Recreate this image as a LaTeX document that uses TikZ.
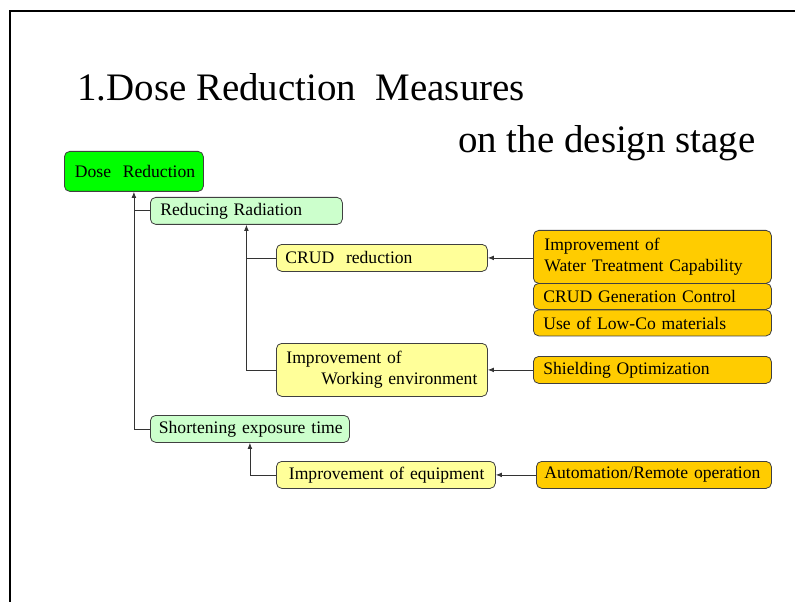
\documentclass[tikz,border=0pt]{standalone}
\usepackage{fontspec}
\setmainfont{Liberation Serif}
\usetikzlibrary{positioning,arrows.meta}
\definecolor{dosegreen}{RGB}{0,255,0}
\definecolor{palegreen}{RGB}{204,255,204}
\definecolor{paleyellow}{RGB}{255,255,153}
\definecolor{measureorange}{RGB}{255,204,0}
\newcommand{\titlefont}{\fontsize{29.2}{35}\selectfont}
\newcommand{\boxfont}{\fontsize{13.2}{15.8}\selectfont\hyphenpenalty=10000}
\tikzset{
    box/.style={draw=black!75, line width=0.6pt, rounded corners=4pt, anchor=north west,
        align=left, inner ysep=0pt, font=\boxfont},
    link/.style={draw=black!80, line width=0.6pt},
    uplink/.style={link, -{Latex[length=4.5pt,width=3.5pt]}}
}

\begin{document}
\begin{tikzpicture}[x=0.75pt, y=-0.75pt]
    \useasboundingbox (0,0) rectangle (795,602);
    % slide frame
    \draw[line width=1.5pt] (10,602) -- (10,11) -- (795,11);

    % title
    \node[anchor=base west, inner sep=0pt, font=\titlefont] (title) at (77,101) {1.Dose Reduction\ \ Measures};
    \node[anchor=base west, inner sep=0pt, font=\titlefont] (subtitle) at (458,153) {on the design stage};

    % tree of measures (ties keep each line in one piece)
    \node[box, fill=dosegreen, minimum height=30pt, inner xsep=7.875pt, text width=88.5pt] (dose) at (64,151) {Dose~~Reduction};
    \node[box, fill=palegreen, minimum height=20.25pt, inner xsep=7.5pt, text width=129pt] (reduce) at (150,197) {Reducing~Radiation};
    \node[box, fill=paleyellow, minimum height=20.25pt, inner xsep=6.75pt, text width=144.75pt] (crud) at (276,244) {CRUD~~reduction};
    \node[box, fill=paleyellow, minimum height=39.75pt, inner xsep=6pt, text width=146.25pt] (work) at (276,343) {\hspace*{1.5pt}Improvement~of\\\hspace*{27.75pt}Working~environment};
    \node[box, fill=palegreen, minimum height=20.25pt, inner xsep=6.375pt, text width=136.5pt] (short) at (150,415) {Shortening~exposure~time};
    \node[box, fill=paleyellow, minimum height=20.25pt, inner xsep=9.375pt, text width=145.5pt] (equip) at (276,461) {Improvement~of~equipment};

    % concrete measures
    \node[box, fill=measureorange, minimum height=39.75pt, inner xsep=8.25pt, text width=162pt] (water) at (533,230) {Improvement~of\\Water~Treatment~Capability};
    \node[box, fill=measureorange, minimum height=19.5pt, inner xsep=7.5pt, text width=163.5pt] (crudgen) at (533,283) {CRUD~Generation~Control};
    \node[box, fill=measureorange, minimum height=19.5pt, inner xsep=7.5pt, text width=163.5pt] (lowco) at (533,309.5) {Use~of~Low-Co~materials};
    \node[box, fill=measureorange, minimum height=20.25pt, inner xsep=7.5pt, text width=163.5pt] (shield) at (533,356) {Shielding~Optimization};
    \node[box, fill=measureorange, minimum height=20.25pt, inner xsep=6pt, text width=164.25pt] (auto) at (536,461) {Automation/Remote~operation};

    % connectors
    \draw[uplink] (short.west) -| (dose.south);
    \draw[link] (reduce.west) -- (reduce.west -| dose.south);
    \draw[uplink] (work.west) -| (reduce.south);
    \draw[link] (crud.west) -- (crud.west -| reduce.south);
    \draw[uplink] (equip.west) -| (short.south);
    \draw[uplink] (crud.east -| water.west) -- (crud.east);
    \draw[uplink] (work.east -| shield.west) -- (work.east);
    \draw[uplink] (auto.west) -- (equip.east);
\end{tikzpicture}
\end{document}
